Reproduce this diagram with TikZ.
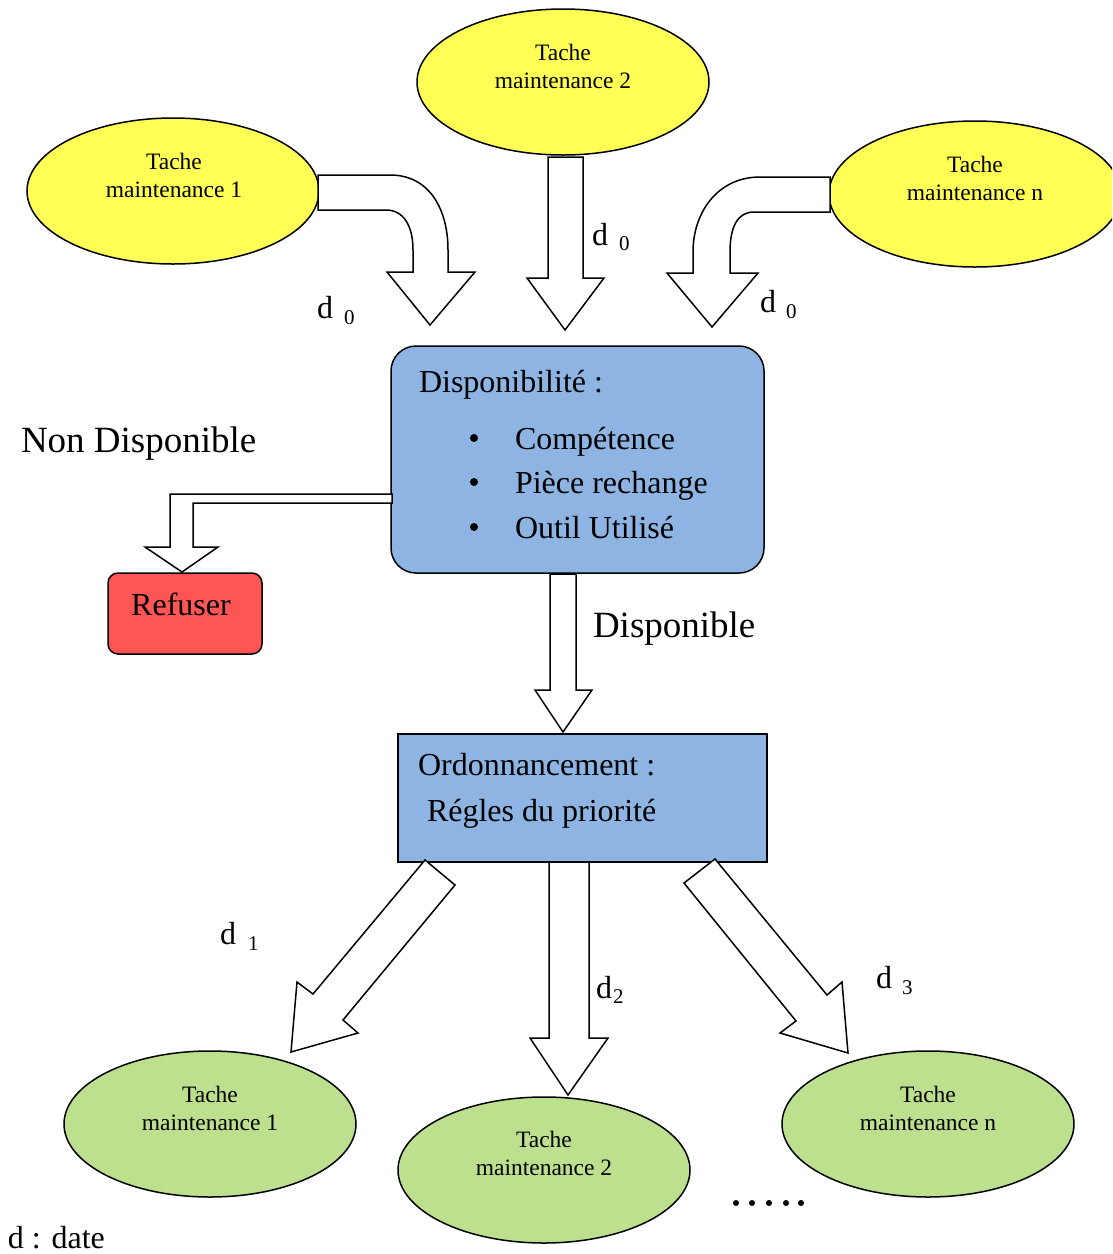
\documentclass[tikz,border=0pt]{standalone}
\usepackage{fontspec}
\setmainfont{Liberation Serif}
\usetikzlibrary{shapes.geometric}
\definecolor{taskyellow}{HTML}{FFFF55}
\definecolor{boxblue}{HTML}{8EB4E3}
\definecolor{refusered}{HTML}{FF5555}
\definecolor{taskgreen}{HTML}{BCE08E}
\begin{document}
\begin{tikzpicture}[x=1pt,y=-1pt,
  every node/.style={inner sep=0pt, outer sep=0pt},
  task/.style={ellipse, draw, line width=1.5pt, minimum width=292pt, minimum height=146pt},
  tasklabel/.style={font=\fontsize{23.5}{27.5}\selectfont, align=center, anchor=base},
  blockarrow/.style={draw, fill=white, line width=1.5pt, line join=miter},
  txt/.style={font=\fontsize{32}{37}\selectfont, anchor=base west},
  bigtxt/.style={font=\fontsize{37}{40}\selectfont, anchor=base west},
  sub/.style={font=\fontsize{21}{21}\selectfont, anchor=base west},
]
\clip (0,0) rectangle (1112,1254);

% incoming maintenance tasks
\node[task, fill=taskyellow] (in1) at (173,191) {};
\node[task, fill=taskyellow] (in2) at (563,82) {};
\node[task, fill=taskyellow] (inn) at (975,194) {};
\node[tasklabel] (in1t) at (174,197) {Tache\\maintenance 1};
\node[tasklabel] (in2t) at (563,88) {Tache\\maintenance 2};
\node[tasklabel] (innt) at (975,200) {Tache\\maintenance n};

% availability check
\node[draw, line width=1.5pt, fill=boxblue, rounded corners=25pt,
      minimum width=373pt, minimum height=227pt] (dispo) at (577.5,459.5) {};
\node[txt] (dispot) at (419,392) {Disponibilité :};
\foreach \y/\t [count=\i] in {449/Compétence, 493/Pièce rechange, 538/Outil Utilisé}{
  \fill (474,\y-11) circle (4);
  \node[txt] (crit\i) at (515,\y) {\t};
}

% rejection
\node[draw, line width=1.5pt, fill=refusered, rounded corners=10pt,
      minimum width=154pt, minimum height=81pt] (refus) at (185,613.5) {};
\node[txt, anchor=base] (refust) at (181,615) {Refuser};
\node[bigtxt] (nondispo) at (21,452) {Non Disponible};

% scheduling
\node[draw, line width=1.5pt, fill=boxblue, minimum width=369pt, minimum height=128pt] (ordo) at (582.5,798) {};
\node[txt] (ordot) at (418,775) {Ordonnancement :};
\node[txt] (regles) at (427,821) {Régles du priorité};
\node[bigtxt] (dispolbl) at (593,637) {Disponible};

% scheduled tasks
\node[task, fill=taskgreen] (out1) at (210,1124) {};
\node[task, fill=taskgreen] (out2) at (544,1170) {};
\node[task, fill=taskgreen] (outn) at (928,1124) {};
\node[tasklabel] (out1t) at (210,1130) {Tache\\maintenance 1};
\node[tasklabel] (out2t) at (544,1175) {Tache\\maintenance 2};
\node[tasklabel] (outnt) at (928,1130) {Tache\\maintenance n};
\foreach \x in {736,752,769,786,801} \fill (\x,1203) circle (3);

% block arrows into the availability check
\draw[blockarrow] (318,175) -- (390,175) .. controls (430,175) and (448,210) .. (448,250)
  -- (448,272) -- (475,272) -- (430,325) -- (387,272) -- (413,272) -- (413,250)
  .. controls (413,225) and (403,210) .. (386,210) -- (318,210) -- cycle;
\draw[blockarrow] (548,157) -- (548,278) -- (527,278) -- (565,330) -- (604,278)
  -- (583,278) -- (583,157) -- cycle;
\draw[blockarrow] (830,177) -- (760,177) .. controls (718,177) and (693,212) .. (693,252)
  -- (693,273) -- (667,273) -- (712,327) -- (758,273) -- (730,273) -- (730,252)
  .. controls (730,226) and (738,212) .. (754,212) -- (830,212) -- cycle;

% rejection and acceptance arrows
\draw[blockarrow] (392,494) -- (170,494) -- (170,547) -- (145,547) -- (182,572)
  -- (218,547) -- (193,547) -- (193,503) -- (392,503) -- cycle;
\draw[blockarrow] (550,574) -- (550,690) -- (535,690) -- (563,732) -- (592,690)
  -- (576,690) -- (576,574) -- cycle;

% block arrows out of scheduling
\draw[blockarrow] (425,860) -- (313,994) -- (297,982) -- (291,1052) -- (358,1033)
  -- (343,1020) -- (455,885) -- cycle;
\draw[blockarrow] (549,862) -- (549,1038) -- (530,1038) -- (568,1095) -- (608,1038)
  -- (589,1038) -- (589,862) -- cycle;
\draw[blockarrow] (715,859) -- (684,883) -- (796,1021) -- (780,1033) -- (848,1053)
  -- (842,982) -- (827,995) -- cycle;

% date labels
\node[txt] (d0a) at (317,318) {d};
\node[sub] (d0as) at (344,324) {0};
\node[txt] (d0b) at (592,245) {d};
\node[sub] (d0bs) at (619,250) {0};
\node[txt] (d0c) at (760,312) {d};
\node[sub] (d0cs) at (786,318) {0};
\node[txt] (d1) at (220,944) {d};
\node[sub] (d1s) at (248,950) {1};
\node[txt] (d2) at (596,998) {d};
\node[sub] (d2s) at (613,1003) {2};
\node[txt] (d3) at (876,988) {d};
\node[sub] (d3s) at (902,994) {3};
\node[txt] (legend) at (8,1248) {d : date};
\end{tikzpicture}
\end{document}
